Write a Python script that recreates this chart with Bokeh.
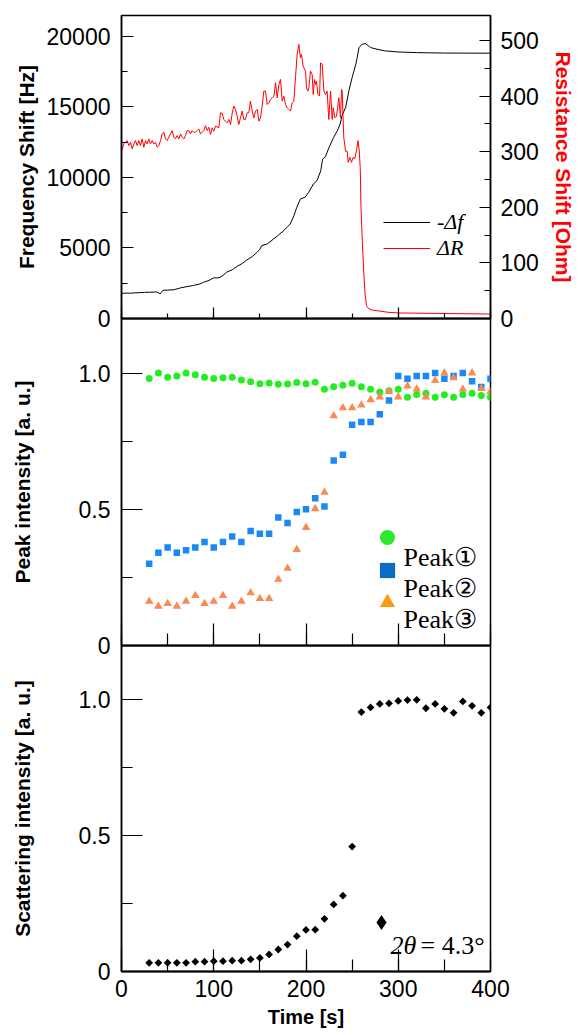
import numpy as np
from bokeh.plotting import figure
from bokeh.models import (Range1d, LinearAxis, SingleIntervalTicker, Legend, LegendItem,
                          CustomJSTickFormatter, Label)
from bokeh.core.properties import value
from bokeh.layouts import column
from bokeh.embed import file_html
from bokeh.resources import INLINE

# ---------------- QCM: frequency shift (-Δf) ----------------
freq_time = [0, 5, 10, 15, 20, 25, 30, 35, 38, 42, 45, 50, 57, 64, 71, 78, 85, 89, 95, 100,
             104, 107, 110, 114, 120, 125, 131, 136, 142, 147, 150, 152, 158, 165, 170, 176,
             180, 183, 187, 190, 194, 199, 203, 208, 212, 216, 218, 221, 225, 230, 234, 237,
             239, 243, 246.5, 250, 254, 255.5, 257.5, 261, 264.5, 270, 277, 285, 299, 320,
             350, 400]
freq_shift = [1780, 1800, 1790, 1820, 1830, 1850, 1860, 1870, 1880, 1750, 2000, 2010, 2040,
              2170, 2260, 2340, 2450, 2570, 2700, 2880, 2870, 2930, 3050, 3280, 3450, 3680,
              3900, 4150, 4400, 4690, 4900, 5160, 5280, 5640, 5900, 6230, 6500, 6700, 7300,
              7880, 8470, 8590, 8940, 9530, 9770, 10470, 11290, 11450, 12120, 12830, 13300,
              13770, 14360, 14950, 16130, 17070, 18010, 18480, 19190, 19430, 19470, 19190,
              19070, 18960, 18880, 18830, 18800, 18790]

# ---------------- QCM: resistance shift (ΔR) ----------------
res_time = [0, 0.7, 2.5, 6.1, 7.9, 9.8, 11.6, 13.4, 15.2, 17.0, 18.8, 20.6, 22.4, 24.2, 26.0,
            27.8, 29.6, 31.4, 33.2, 35.0, 36.9, 38.7, 40.5, 42.3, 44.1, 45.9, 47.7, 49.5,
            51.3, 54.9, 56.7, 58.5, 60.3, 62.2, 64.0, 65.8, 67.6, 69.4, 71.2, 73.0, 74.8,
            76.6, 78.4, 80.2, 82.0, 83.8, 85.6, 87.4, 89.2, 91.0, 92.9, 94.7, 96.5, 98.3,
            100.1, 101.9, 105.5, 107.3, 109.1, 110.9, 112.7, 114.5, 116.4, 118.2, 120.0,
            121.8, 123.6, 125.4, 127.2, 129.0, 130.8, 132.6, 134.4, 136.2, 138.0, 139.8,
            141.7, 143.5, 145.3, 147.1, 148.9, 150.7, 152.5, 154.3, 156.1, 157.9, 159.7,
            161.6, 163.4, 165.2, 167.0, 168.8, 170.6, 172.4, 174.2, 176.0, 177.8, 179.6,
            181.4, 183.2, 185.0, 186.8, 188.6, 190.4, 192.2, 194.0, 195.1, 196.9, 199.5,
            200.5, 202.0, 203.1, 204.9, 206.7, 207.8, 209.3, 210.3, 211.4, 212.9, 214.7,
            215.8, 217.6, 219.4, 221.1, 222.9, 224.7, 226.6, 228.4, 229.5, 231.3, 233.1,
            235.6, 237.4, 238.5, 239.2, 240.3, 241.0, 242.9, 244.6, 245.7, 247.5, 249.3,
            251.1, 252.8, 254.6, 256.4, 257.8, 258.9, 259.5, 261.0, 262.7, 264.0, 265.6,
            268, 272, 277, 290, 300, 350, 400]
res_shift = [300, 305, 314, 320, 311, 317, 305, 314, 320, 311, 320, 311, 323, 308, 320,
             314, 323, 314, 320, 314, 317, 308, 311, 320, 332, 335, 323, 320, 326, 338, 326,
             323, 329, 323, 332, 326, 323, 329, 338, 338, 332, 338, 335, 335, 338, 341, 332,
             335, 338, 347, 338, 344, 331, 343, 337, 346, 343, 370, 369, 358, 355, 352, 358,
             349, 369, 382, 376, 364, 349, 361, 373, 358, 358, 370, 370, 391, 373, 361, 373,
             376, 355, 361, 382, 409, 409, 385, 388, 394, 397, 400, 424, 397, 421, 430, 391,
             400, 385, 379, 376, 373, 388, 391, 433, 475, 493, 469, 475, 454, 445, 415, 409,
             415, 445, 439, 403, 430, 421, 427, 403, 400, 460, 457, 409, 403, 409, 358, 409,
             358, 379, 361, 364, 397, 361, 412, 409, 355, 325, 301, 301, 281, 290, 281, 290,
             287, 301, 320, 301, 266, 206, 140, 80, 45, 23, 18, 15, 14, 11, 10, 9, 8]

# ---------------- XRD peak intensities ----------------
xrd_time = [30, 40, 50, 60, 70, 80, 90, 100, 110, 120, 130, 140, 150, 160, 170, 180, 190,
            200, 210, 220, 230, 240, 250, 260, 270, 280, 290, 300, 310, 320, 330, 340, 350,
            360, 370, 380, 390, 400]
peak1 = [0.980, 1.000, 0.984, 0.989, 1.000, 0.994, 0.984, 0.980, 0.983, 0.984, 0.974,
         0.968, 0.961, 0.963, 0.959, 0.960, 0.965, 0.961, 0.966, 0.940, 0.950, 0.955,
         0.962, 0.950, 0.940, 0.930, 0.935, 0.940, 0.911, 0.921, 0.926, 0.911, 0.920,
         0.911, 0.921, 0.926, 0.917, 0.911]
peak2 = [0.300, 0.340, 0.360, 0.340, 0.350, 0.360, 0.380, 0.360, 0.380, 0.400, 0.380,
         0.420, 0.410, 0.410, 0.470, 0.450, 0.490, 0.500, 0.540, 0.510, 0.679, 0.700,
         0.810, 0.820, 0.820, 0.849, 0.899, 0.989, 0.979, 0.989, 0.989, 1.000, 0.979,
         0.989, 1.000, 0.970, 0.949, 0.979]
peak3 = [0.162, 0.144, 0.154, 0.144, 0.162, 0.183, 0.154, 0.162, 0.183, 0.144, 0.162,
         0.193, 0.172, 0.172, 0.243, 0.283, 0.352, 0.433, 0.502, 0.562, 0.843, 0.872,
         0.872, 0.882, 0.902, 0.912, 0.932, 0.912, 0.952, 0.941, 0.912, 0.972, 1.000,
         0.982, 0.941, 1.000, 0.943, 0.932]

# ---------------- small-angle scattering intensity (2θ = 4.3°) ----------------
saxs = [0.032, 0.032, 0.032, 0.032, 0.032, 0.036, 0.036, 0.038, 0.038, 0.040, 0.040,
        0.045, 0.050, 0.063, 0.081, 0.099, 0.130, 0.153, 0.154, 0.194, 0.247, 0.279,
        0.460, 0.955, 0.972, 0.985, 0.987, 0.996, 0.999, 1.000, 0.969, 0.985, 0.967,
        0.952, 0.994, 0.978, 0.952, 0.972]

SANS = "Liberation Sans"
SERIF = "Liberation Serif"
TICK_SIZE = "23px"
LABEL_SIZE = "21px"
OVERLAP = 16

x_range = Range1d(0, 400)


def base_fig(height, y_range, top, bottom, margin=None):
    kw = dict(width=580, height=height, x_range=x_range, y_range=y_range,
              output_backend="svg", toolbar_location=None,
              min_border_left=121, min_border_right=90,
              min_border_top=top, min_border_bottom=bottom)
    if margin is not None:
        kw["margin"] = margin
    p = figure(**kw)
    p.grid.visible = False
    p.outline_line_color = "black"
    p.outline_line_width = 1.5
    p.background_fill_alpha = 0
    p.border_fill_alpha = 0
    return p


def style_axis(ax, major_in, minor_in, line_width):
    ax.major_tick_in = major_in
    ax.major_tick_out = 0
    ax.minor_tick_in = minor_in
    ax.minor_tick_out = 0
    ax.axis_line_width = line_width
    ax.axis_line_color = "black"
    ax.major_tick_line_color = "black"
    ax.minor_tick_line_color = "black"
    ax.major_tick_line_width = 1.2
    ax.minor_tick_line_width = 1.2
    ax.major_label_text_font = SANS
    ax.major_label_text_font_size = TICK_SIZE
    ax.major_label_text_color = "black"
    ax.axis_label_text_font = SANS
    ax.axis_label_text_font_size = LABEL_SIZE
    ax.axis_label_text_font_style = "bold"
    ax.axis_label_text_color = "black"


blank = CustomJSTickFormatter(code="return '';")


def hide_x_labels(ax):
    ax.formatter = blank
    ax.major_label_text_font_size = "8px"
    ax.major_label_standoff = 0


one_decimal = CustomJSTickFormatter(code="return tick == 0 ? '0' : tick.toFixed(1);")


def key_marker(renderer, loc, glyph=38):
    """Legend key showing only the marker; its caption is set separately."""
    return Legend(items=[LegendItem(label=value(" "), renderers=[renderer])],
                  location=loc, orientation="vertical",
                  glyph_width=glyph, glyph_height=glyph, label_height=glyph,
                  label_width=1, label_standoff=0, spacing=0, padding=0, margin=0,
                  border_line_color=None, background_fill_alpha=0,
                  label_text_font=SERIF, label_text_font_size="8px")


def caption(text, x, y, size="26px", style="normal"):
    return Label(x=x, y=y, x_units="screen", y_units="screen", text=text,
                 text_font=SERIF, text_font_size=size, text_font_style=style,
                 text_color="black", text_align="left", text_baseline="alphabetic")


# ================= top panel: QCM =================
p1 = base_fig(318 + OVERLAP, Range1d(0, 21460), top=15, bottom=OVERLAP)
p1.extra_y_ranges = {"ohm": Range1d(0, 545)}

xa = p1.xaxis[0]
xa.ticker = SingleIntervalTicker(interval=100, num_minor_ticks=2)
style_axis(xa, 11, 5, 2)
hide_x_labels(xa)

ya = p1.yaxis[0]
ya.ticker = SingleIntervalTicker(interval=5000, num_minor_ticks=2)
style_axis(ya, 12, 6, 1.5)
ya.axis_label = "Frequency Shift [Hz]"
ya.major_label_standoff = 11
ya.axis_label_standoff = 6

ra = LinearAxis(y_range_name="ohm")
ra.ticker = SingleIntervalTicker(interval=100, num_minor_ticks=2)
style_axis(ra, 11, 6, 1.5)
ra.axis_label = "Resistance Shift [Ohm]"
ra.axis_label_text_color = "red"
ra.major_label_standoff = 10
ra.axis_label_standoff = 10
p1.add_layout(ra, "right")

f_line = p1.line(freq_time, freq_shift, line_color="black", line_width=1)
r_line = p1.line(res_time, res_shift, line_color="red", line_width=1, y_range_name="ohm")

qcm_legend = Legend(items=[LegendItem(label=value("-Δf"), renderers=[f_line]),
                           LegendItem(label=value("ΔR"), renderers=[r_line])],
                    location=(262, 57), orientation="vertical",
                    glyph_width=47, glyph_height=24, label_height=24, label_standoff=7,
                    spacing=0, padding=0, margin=0, border_line_color=None,
                    background_fill_alpha=0,
                    label_text_font=SERIF, label_text_font_size="22px",
                    label_text_font_style="italic", label_text_color="black")
p1.add_layout(qcm_legend)

# ================= middle panel: XRD peaks =================
p2 = base_fig(327 + OVERLAP, Range1d(0, 1.2), top=0, bottom=OVERLAP,
              margin=(-OVERLAP, 0, 0, 0))

xa = p2.xaxis[0]
xa.ticker = SingleIntervalTicker(interval=100, num_minor_ticks=2)
style_axis(xa, 22, 12, 2)
hide_x_labels(xa)

ya = p2.yaxis[0]
ya.ticker = SingleIntervalTicker(interval=0.5, num_minor_ticks=2)
ya.formatter = one_decimal
style_axis(ya, 21, 11, 1.5)
ya.axis_label = "Peak intensity [a. u.]"
ya.major_label_standoff = 11
ya.axis_label_standoff = 42

p2.scatter(xrd_time, peak1, marker="circle", size=7, fill_color="#22ee22", line_color=None)
p2.scatter(xrd_time, peak2, marker="square", size=6.5, fill_color="#1a88f5", line_color=None)
p2.scatter(xrd_time, peak3, marker="triangle", size=8.5, fill_color="#fa8a50", line_color=None)

# legend keys: same series, zero-size on the plot, shown only in the legend
k1 = p2.scatter(xrd_time, peak1, marker="circle", size=0, fill_color="#2ee82e", line_color=None)
k2 = p2.scatter(xrd_time, peak2, marker="square", size=0, fill_color="#0a6cc2", line_color=None)
k3 = p2.scatter(xrd_time, peak3, marker="triangle", size=0, fill_color="#ff9a10", line_color=None)

p2.add_layout(key_marker(k1, (247, 89)))
p2.add_layout(key_marker(k2, (247, 56)))
p2.add_layout(key_marker(k3, (247, 24)))
p2.add_layout(caption("Peak①", 282, 88))
p2.add_layout(caption("Peak②", 282, 57))
p2.add_layout(caption("Peak③", 282, 26))

# ================= bottom panel: scattering =================
p3 = base_fig(390, Range1d(0, 1.2), top=0, bottom=64, margin=(-OVERLAP, 0, 0, 0))

xa = p3.xaxis[0]
xa.ticker = SingleIntervalTicker(interval=100, num_minor_ticks=2)
style_axis(xa, 22, 12, 2)
xa.major_label_standoff = 8
xa.axis_label = "Time [s]"
xa.axis_label_text_font_size = "20px"
xa.axis_label_standoff = 6

ya = p3.yaxis[0]
ya.ticker = SingleIntervalTicker(interval=0.5, num_minor_ticks=2)
ya.formatter = one_decimal
style_axis(ya, 21, 11, 1.5)
ya.axis_label = "Scattering intensity [a. u.]"
ya.major_label_standoff = 11
ya.axis_label_standoff = 42

p3.scatter(xrd_time, saxs, marker="square", angle=np.pi / 4, size=5.5,
           fill_color="black", line_color=None)
k4 = p3.scatter(xrd_time, saxs, marker="diamond", size=0, fill_color="black", line_color=None)
p3.add_layout(key_marker(k4, (241, 30)))
p3.add_layout(caption("2θ", 269, 26, style="italic"))
p3.add_layout(caption("= 4.3°", 299, 26))

layout = column(p1, p2, p3, spacing=0)
open("out.html", "w").write(file_html(layout, INLINE))
